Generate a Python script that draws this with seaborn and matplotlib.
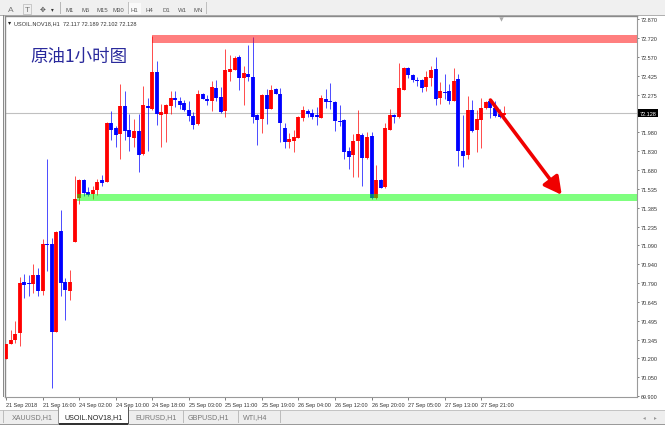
import matplotlib
matplotlib.use("Agg")
import matplotlib.pyplot as plt
import seaborn as sns
import pandas as pd
from matplotlib.patches import Rectangle

opens = [70.192,70.310,70.342,70.397,70.798,70.790,70.783,70.853,70.728,71.098,
71.098,70.405,71.200,70.798,70.728,71.114,71.460,71.602,71.508,71.492,
71.523,71.602,71.586,72.051,72.012,71.964,72.185,71.996,71.933,71.988,
71.807,72.185,72.161,72.452,72.114,72.122,72.185,72.248,72.224,72.208,
72.153,72.106,72.043,72.279,72.240,72.224,72.326,72.256,72.145,72.452,
72.468,72.571,72.405,72.437,72.413,72.114,72.082,72.271,72.161,72.318,
72.279,72.012,71.901,71.909,71.933,72.090,72.145,72.130,72.114,72.090,
72.240,72.224,72.216,72.067,72.075,71.831,71.799,71.909,71.957,71.775,
71.949,71.460,71.602,71.547,71.996,72.114,72.098,72.311,72.484,72.429,
72.389,72.389,72.334,72.405,72.476,72.248,72.295,72.303,72.224,72.397,
71.831,71.799,72.153,71.996,72.075,72.169,72.224,72.169,72.122,72.117]
highs = [70.310,70.420,70.491,70.838,70.861,70.853,70.940,70.909,71.137,71.767,
71.145,71.200,71.365,70.830,70.893,71.634,71.610,71.610,71.547,71.555,
71.610,71.642,72.060,72.145,72.027,72.358,72.303,72.122,72.082,72.122,
72.342,72.248,72.736,72.539,72.201,72.201,72.303,72.303,72.256,72.232,
72.224,72.138,72.311,72.287,72.271,72.382,72.389,72.334,72.633,72.586,
72.575,72.586,72.500,72.665,72.728,72.122,72.279,72.318,72.350,72.326,
72.326,72.051,71.972,71.996,72.106,72.185,72.161,72.161,72.177,72.271,
72.318,72.366,72.224,72.193,72.083,71.862,71.964,72.153,71.972,71.980,
71.980,71.720,71.610,72.051,72.161,72.122,72.523,72.492,72.492,72.437,
72.413,72.397,72.460,72.500,72.571,72.374,72.437,72.358,72.484,72.437,
72.114,72.264,72.232,72.153,72.248,72.224,72.232,72.224,72.161,72.189]
lows = [70.192,70.310,70.318,70.295,70.673,70.688,70.712,70.688,70.696,70.885,
69.964,70.405,70.688,70.499,70.657,71.114,71.413,71.476,71.476,71.452,
71.484,71.555,71.586,71.917,71.862,71.767,71.917,71.831,71.862,71.665,
71.800,71.831,72.150,72.035,71.862,71.901,72.122,72.177,72.161,72.145,
72.067,72.003,72.035,72.240,72.193,72.145,72.224,72.130,72.098,72.382,
72.468,72.311,72.193,72.382,72.051,71.878,71.972,72.043,72.161,72.279,
71.901,71.854,71.854,71.823,71.933,72.067,72.098,72.082,72.035,72.090,
72.169,72.161,71.988,72.027,71.767,71.688,71.626,71.626,71.555,71.767,
71.452,71.452,71.539,71.539,71.996,72.051,72.090,72.311,72.405,72.374,
72.342,72.295,72.303,72.342,72.193,72.201,72.240,72.201,72.224,71.712,
71.704,71.767,71.980,71.823,71.854,72.161,72.090,72.098,72.090,72.102]
closes = [70.310,70.342,70.389,70.790,70.775,70.783,70.853,70.728,71.098,71.094,
70.405,71.193,70.790,70.735,70.798,71.452,71.602,71.500,71.484,71.523,
71.586,71.579,72.051,71.996,71.957,72.185,71.988,71.941,71.988,71.799,
72.193,72.169,72.452,72.122,72.138,72.193,72.248,72.232,72.193,72.153,
72.106,72.035,72.279,72.240,72.224,72.334,72.248,72.138,72.468,72.476,
72.563,72.405,72.444,72.413,72.098,72.075,72.271,72.161,72.311,72.279,
72.051,71.901,71.925,71.941,72.098,72.153,72.122,72.098,72.098,72.248,
72.216,72.216,72.067,72.059,71.823,71.783,71.909,71.964,71.775,71.941,
71.460,71.602,71.539,72.012,72.114,72.098,72.326,72.484,72.429,72.389,
72.382,72.326,72.413,72.468,72.240,72.303,72.291,72.224,72.382,71.831,
71.791,72.153,71.988,72.082,72.169,72.216,72.169,72.106,72.098,72.128]

x_tick_labels = ["21 Sep 2018","21 Sep 16:00","24 Sep 02:00","24 Sep 10:00","24 Sep 18:00",
                 "25 Sep 03:00","25 Sep 11:00","25 Sep 19:00","26 Sep 04:00","26 Sep 12:00",
                 "26 Sep 20:00","27 Sep 05:00","27 Sep 13:00","27 Sep 21:00"]
y_ticks = [72.870,72.720,72.570,72.425,72.275,71.980,71.830,71.680,71.535,71.385,71.235,
           71.090,70.940,70.790,70.645,70.495,70.345,70.200,70.050,69.900]
last_price = 72.128
resistance = (72.681, 72.744)
support = (71.436, 71.492)
periods = ["M1","M5","M15","M30","H1","H4","D1","W1","MN"]
tabs = ["XAUUSD,H1","USOIL.NOV18,H1","EURUSD,H1","GBPUSD,H1","WTI,H4"]

sns.set_theme(style="white")
W, H = 665, 427
fig = plt.figure(figsize=(W/100, H/100), dpi=100, facecolor="white")
ax = fig.add_axes([5/W, 1-398/H, 632/W, 381/H])
CJK = ["Noto Sans CJK SC", "DejaVu Sans"]
SMALL = "Liberation Sans"

rows_w, rows_b = [], []
for i, (o, h, l, c) in enumerate(zip(opens, highs, lows, closes)):
    d = "up" if c >= o else "down"
    rows_w += [(i, h, d), (i, l, d)]
    rows_b += [(i, o, d), (i, c, d)]
wicks = pd.DataFrame(rows_w, columns=["bar", "price", "dir"])
bodies = pd.DataFrame(rows_b, columns=["bar", "price", "dir"])
pal = {"up": "#ff0000", "down": "#0000ff"}
sns.lineplot(data=wicks, x="bar", y="price", hue="dir", units="bar", estimator=None, sort=False,
             palette=pal, lw=0.62, alpha=0.8, legend=False, ax=ax, solid_capstyle="butt", zorder=2)
sns.lineplot(data=bodies, x="bar", y="price", hue="dir", units="bar", estimator=None, sort=False,
             palette=pal, lw=2.75, legend=False, ax=ax, solid_capstyle="butt", zorder=3)

x_left, x_right = -0.22, 138.07
ax.set_xlim(x_left, x_right)
ax.set_ylim(69.893, 72.894)
ax.set_xlabel(""); ax.set_ylabel("")

ax.axhline(last_price, color="#c0c0c0", lw=0.8, zorder=1)
ax.fill_between([32, x_right], *resistance, color="#ff0000", alpha=0.5, lw=0, zorder=4)
ax.fill_between([15.5, x_right], *support, color="#00ff00", alpha=0.5, lw=0, zorder=4)
ax.annotate("", xy=(121.6, 71.485), xytext=(106, 72.232),
            arrowprops=dict(arrowstyle="-|>,head_length=0.75,head_width=0.4", color="#f00000", lw=2.6,
                            mutation_scale=14, shrinkA=0, shrinkB=0), zorder=5)
ax.text(25/632, 1-(57-17)/381, "原油1小时图", transform=ax.transAxes, family=CJK, fontsize=12.6,
        fontweight="light", color="#2a2a9c", va="center", ha="left")
ax.text(3/632, 1-(23-17)/381, "▾", transform=ax.transAxes, fontsize=4.5, color="#222222", va="center", family="DejaVu Sans")
ax.text(9/632, 1-(23.5-17)/381, "USOIL.NOV18,H1  72.117 72.189 72.102 72.128", transform=ax.transAxes,
        fontsize=4.1, color="#333333", va="center", family=SMALL)
ax.plot([108.3], [72.868], marker="v", ms=3.2, color="#aaaaaa", mew=0, zorder=4)

for s in ["top", "left"]:
    ax.spines[s].set_color("#8a8a8a"); ax.spines[s].set_linewidth(1.0)
for s in ["right", "bottom"]:
    ax.spines[s].set_color("#9a9a9a"); ax.spines[s].set_linewidth(0.8)

ax.set_xticks(range(0, 8*len(x_tick_labels), 8))
ax.set_xticklabels(x_tick_labels, ha="left", fontsize=4.0, color="#333333", family=SMALL)
ax.yaxis.tick_right()
ax.set_yticks(y_ticks)
ax.set_yticklabels([f"{v:.3f}" for v in y_ticks], fontsize=4.0, color="#333333", family=SMALL)
ax.tick_params(axis="x", length=2, width=0.6, color="#666666", pad=1.5, bottom=True)
ax.tick_params(axis="y", length=1.5, width=0.6, color="#666666", pad=1.5, right=True, left=False)
ax.text(1.0037, last_price, f"{last_price:.3f}", transform=ax.get_yaxis_transform(), fontsize=4.0,
        color="white", va="center", ha="left", family=SMALL,
        bbox=dict(boxstyle="square,pad=0.3", fc="black", ec="none"))

# window chrome, placed in figure pixels
def px_rect(x0, y0, x1, y1, fc, z=0):
    fig.add_artist(Rectangle((x0/W, 1-y1/H), (x1-x0)/W, (y1-y0)/H, transform=fig.transFigure,
                             fc=fc, ec="none", zorder=z))
def px_text(x, y, s, **kw):
    kw.setdefault("family", SMALL); kw.setdefault("fontsize", 4.3); kw.setdefault("color", "#555555")
    fig.text(x/W, 1-y/H, s, va="center", **kw)

px_rect(0, 0, W, 15.5, "#f0f0f0")
px_rect(0, 15.5, W, 16.5, "#b0b0b0")
px_rect(3, 16, 4, 398, "#8a8a8a")
px_text(11, 10, "A", ha="center", fontsize=6, color="#777777")
px_text(27, 10, "T", ha="center", fontsize=6, color="#777777", bbox=dict(boxstyle="square,pad=0.15", fc="none", ec="#aaaaaa", lw=0.4))
px_text(43, 9.5, "✥", ha="center", fontsize=5, color="#555555", family="DejaVu Sans")
px_text(52.5, 10, "▾", ha="center", fontsize=4, color="#333333", family="DejaVu Sans")
px_rect(60, 3, 61, 15, "#b8b8b8")
px_rect(127.5, 3, 128.5, 15, "#c0c0c0")
px_rect(206, 3, 207, 15, "#c0c0c0")
px_rect(128.5, 3.5, 141, 15, "#fafafa")
for xp, p in zip([70, 86, 102, 118, 134.5, 149.5, 166, 182, 198], periods):
    px_text(xp, 10, p, ha="center", fontsize=4.3)

px_rect(0, 411, W, 425, "#eeeeee")
px_rect(0, 411, W, 412, "#c4c4c4")
px_rect(0, 424.5, W, 425.5, "#9a9a9a")
px_rect(58.5, 408, 127.5, 425, "#ffffff")
px_rect(58, 408, 59, 425, "#999999")
px_rect(127.5, 408, 128.5, 425, "#555555")
px_rect(58.5, 424, 128, 425.5, "#333333")
for xp in [3, 183, 238, 280]:
    px_rect(xp, 411, xp+1, 424, "#bdbdbd")
for xp, t, col in zip([32, 93.5, 156, 208, 255], tabs, ["#777777", "#222222", "#777777", "#777777", "#777777"]):
    px_text(xp, 418, t, ha="center", fontsize=5.1, color=col)
px_text(644, 417.5, "◂", ha="center", fontsize=4, color="#999999", family="DejaVu Sans")
px_text(655, 417.5, "▸", ha="center", fontsize=4, color="#999999", family="DejaVu Sans")

fig.savefig("out.png", dpi=100, facecolor="white")
